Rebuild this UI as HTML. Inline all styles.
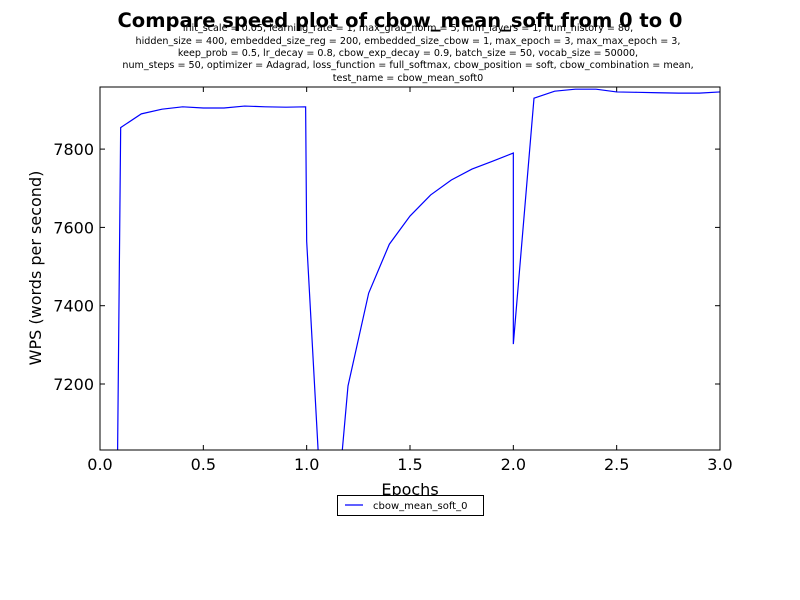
<!DOCTYPE html>
<html><head><meta charset="utf-8"><style>
html,body{margin:0;padding:0;background:#fff;overflow:hidden;width:800px;height:600px;}
svg{display:block;font-family:"DejaVu Sans","Liberation Sans",sans-serif;}
</style></head><body>
<svg id="chart" width="800" height="600" xmlns="http://www.w3.org/2000/svg">
<rect width="800" height="600" fill="#fff"/>
<text x="400" y="27" text-anchor="middle" font-size="19.5" font-weight="bold">Compare speed plot of cbow_mean_soft from 0 to 0</text>
<g font-size="9.6" text-anchor="middle" fill="#000">
<text x="408" y="31">init_scale = 0.05, learning_rate = 1, max_grad_norm = 5, num_layers = 1, num_history = 80,</text>
<text x="408" y="44">hidden_size = 400, embedded_size_reg = 200, embedded_size_cbow = 1, max_epoch = 3, max_max_epoch = 3,</text>
<text x="408" y="56">keep_prob = 0.5, lr_decay = 0.8, cbow_exp_decay = 0.9, batch_size = 50, vocab_size = 50000,</text>
<text x="408" y="68">num_steps = 50, optimizer = Adagrad, loss_function = full_softmax, cbow_position = soft, cbow_combination = mean,</text>
<text x="408" y="81">test_name = cbow_mean_soft0</text>
</g>
<defs><clipPath id="clip"><rect x="100" y="87" width="620" height="363"/></clipPath></defs>
<g id="ticks"></g>
<path id="line" fill="none" stroke="#0000ff" stroke-width="1.2" clip-path="url(#clip)"/>
<rect x="100" y="87" width="620" height="363" fill="none" stroke="#000" stroke-width="1"/>
<text x="410" y="495" text-anchor="middle" font-size="16">Epochs</text>
<text transform="translate(41,268) rotate(-90)" text-anchor="middle" font-size="16">WPS (words per second)</text>
<g>
<rect x="337.5" y="495.5" width="146" height="20" fill="#fff" stroke="#000"/>
<line x1="345" y1="505" x2="363" y2="505" stroke="#0000ff" stroke-width="1.2"/>
<text x="373" y="509" font-size="10">cbow_mean_soft_0</text>
</g>
</svg>
<script>
const xs=[0.0,0.1,0.2,0.3,0.4,0.5,0.6,0.7,0.8,0.9,0.995,1.0,1.1,1.2,1.3,1.4,1.5,1.6,1.7,1.8,1.9,2.0,2.0,2.1,2.2,2.3,2.4,2.5,2.6,2.7,2.8,2.9,3.0];
const wps=[2300,7855,7890,7902,7908,7905,7905,7910,7908,7907,7908,7565,6600,7195,7432,7557,7629,7683,7721,7749,7769,7790,7302,7930,7948,7953,7953,7946,7945,7944,7943,7943,7946];
const xTicks=[0,0.5,1.0,1.5,2.0,2.5,3.0];
const xTickLabels=["0.0","0.5","1.0","1.5","2.0","2.5","3.0"];
const yTicks=[7200,7400,7600,7800];
const yTickLabels=["7200","7400","7600","7800"];
const X=v=>100+v/3*620;
const Y=v=>384-(v-7200)/200*78.3;
const ns="http://www.w3.org/2000/svg";
document.getElementById('line').setAttribute('d',xs.map((x,i)=>(i?'L':'M')+X(x).toFixed(2)+' '+Y(wps[i]).toFixed(2)).join(''));
const g=document.getElementById('ticks');
function mk(tag,attrs,txt){const e=document.createElementNS(ns,tag);for(const k in attrs)e.setAttribute(k,attrs[k]);if(txt)e.textContent=txt;g.appendChild(e);return e;}
xTicks.forEach((t,i)=>{const x=X(t);
mk('line',{x1:x,y1:450,x2:x,y2:445,stroke:'#000'});
mk('line',{x1:x,y1:87,x2:x,y2:92,stroke:'#000'});
const tx=mk('text',{x:x,y:470,'text-anchor':'middle','font-size':'16'},xTickLabels[i]);


});
yTicks.forEach((t,i)=>{const y=Y(t);
mk('line',{x1:100,y1:y,x2:105,y2:y,stroke:'#000'});
mk('line',{x1:720,y1:y,x2:715,y2:y,stroke:'#000'});
const ty=mk('text',{x:94,y:y+6,'text-anchor':'end','font-size':'16'},yTickLabels[i]);


});
</script>
</body></html>
